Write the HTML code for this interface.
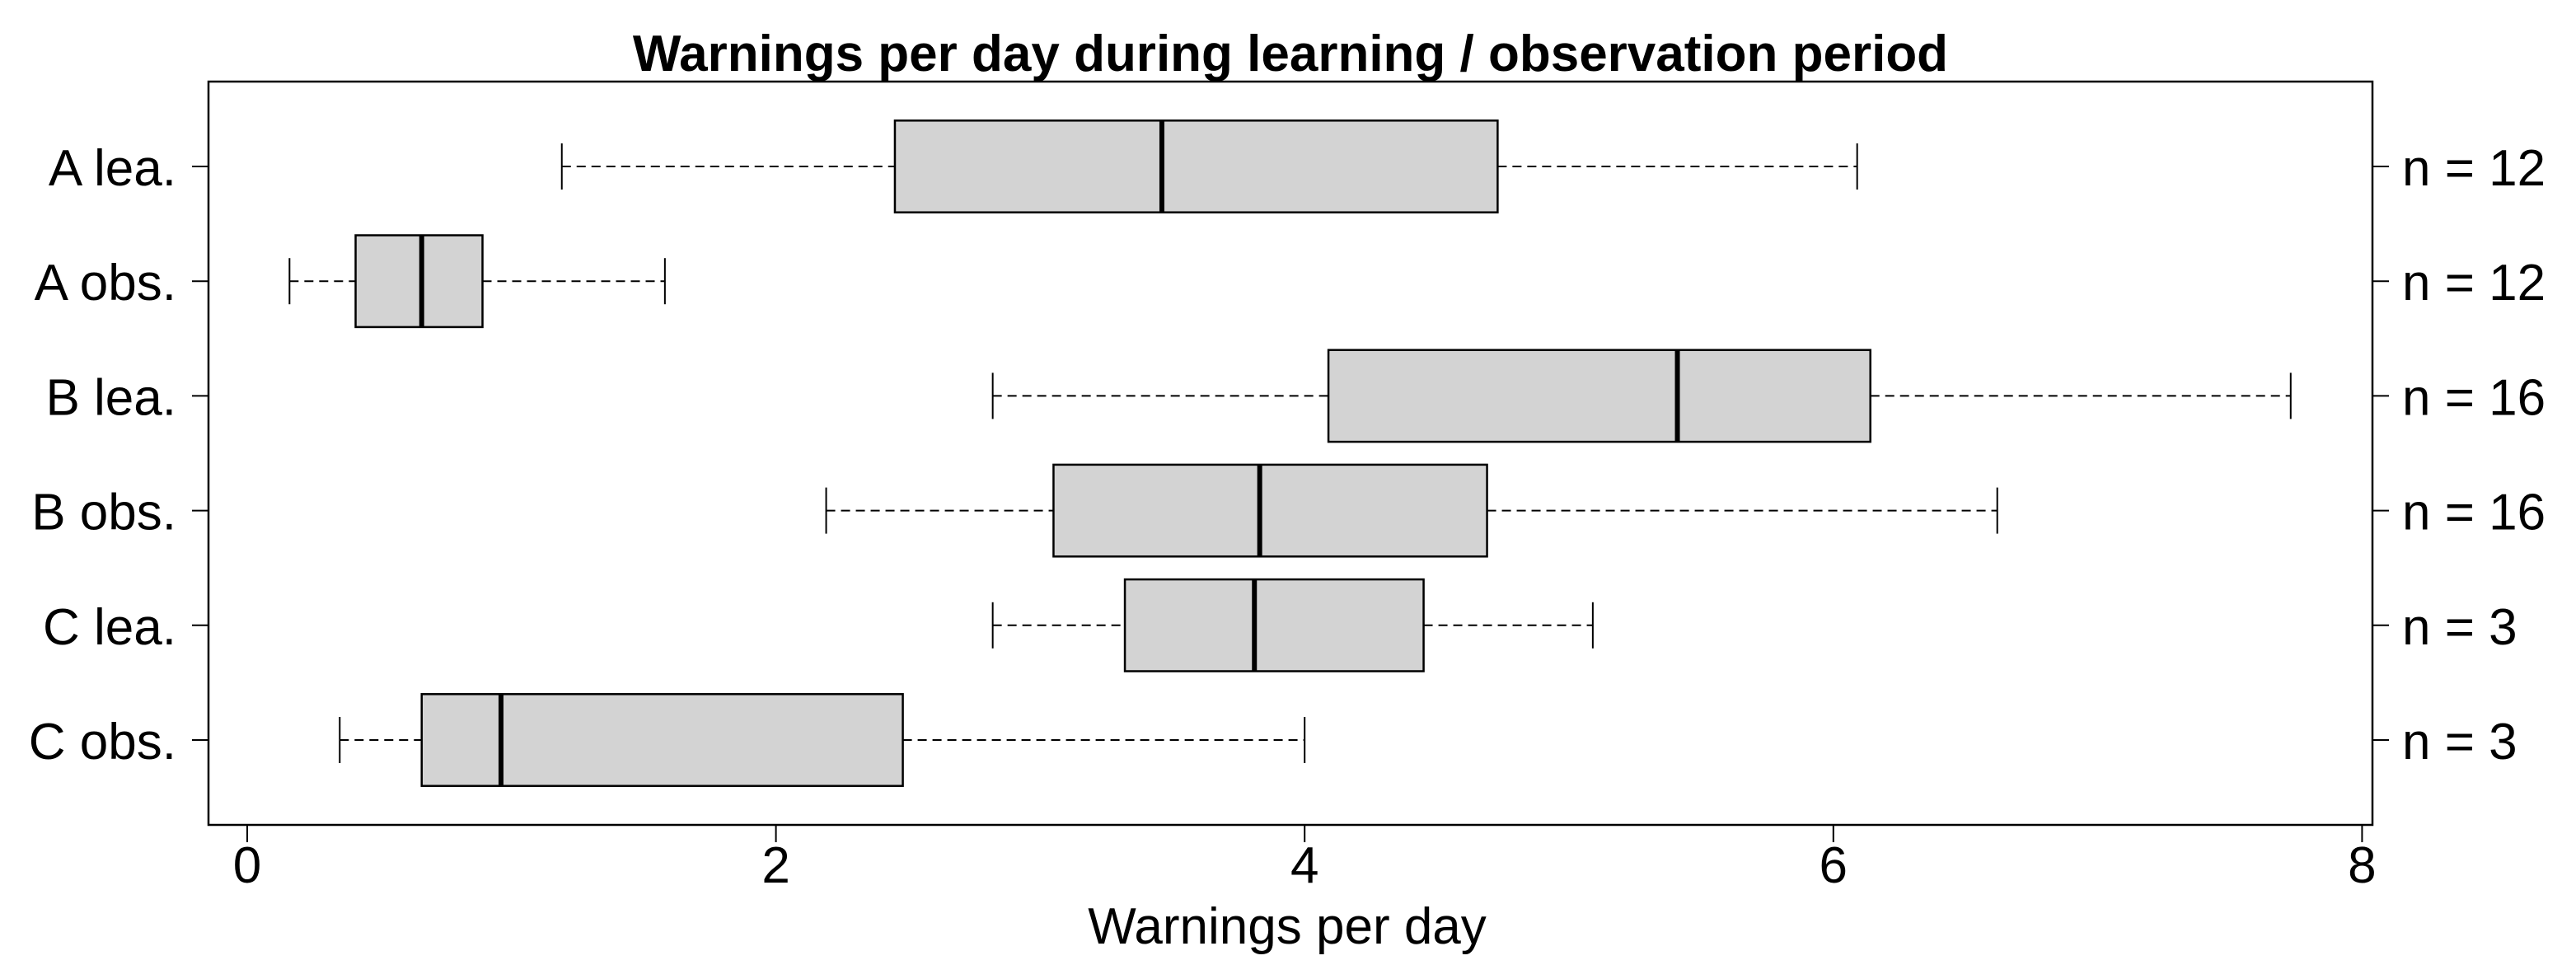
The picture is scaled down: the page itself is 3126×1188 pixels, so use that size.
<!DOCTYPE html>
<html><head><meta charset="utf-8"><style>
html,body{margin:0;padding:0;background:#fff;}
svg{display:block;font-family:"Liberation Sans",Arial,sans-serif;}
</style></head><body>
<svg id="chart" width="3126" height="1188" viewBox="0 0 3126 1188" xmlns="http://www.w3.org/2000/svg">
<rect x="0" y="0" width="3126" height="1188" fill="#fff"/>
<text x="1566" y="86" font-size="62" font-weight="bold" text-anchor="middle">Warnings per day during learning / observation period</text>
<text x="1562" y="1145" font-size="62" text-anchor="middle">Warnings per day</text>
<g id="marks"></g>
<rect x="253" y="99" width="2626" height="902" fill="none" stroke="#000" stroke-width="2.5"/>
</svg>
<script>
const categories = ["A lea.", "A obs.", "B lea.", "B obs.", "C lea.", "C obs."];
const counts = ["n = 12", "n = 12", "n = 16", "n = 16", "n = 3", "n = 3"];
const whiskerLow = [1.19, 0.16, 2.82, 2.19, 2.82, 0.35];
const q1 = [2.45, 0.41, 4.09, 3.05, 3.32, 0.66];
const medians = [3.46, 0.66, 5.41, 3.83, 3.81, 0.96];
const q3 = [4.73, 0.89, 6.14, 4.69, 4.45, 2.48];
const whiskerHigh = [6.09, 1.58, 7.73, 6.62, 5.09, 4.00];
const xTicks = [0, 2, 4, 6, 8];

const NS = "http://www.w3.org/2000/svg";
const X0 = 300, XS = 320.8;
function xScale(v){ return X0 + v * XS; }
function yScale(i){ return 202 + i * 139.2; }
const g = document.getElementById('marks');
function mk(tag, attrs, parent){
  const e = document.createElementNS(NS, tag);
  for (const k in attrs) e.setAttribute(k, attrs[k]);
  (parent || g).appendChild(e);
  return e;
}
const HB = 55.7, HS = 28;
categories.forEach((c, i) => {
  const y = yScale(i);
  const grp = mk('g', {});
  
  
  const dash = {stroke:'#000','stroke-width':2,'stroke-dasharray':'11 7'};
  const wl = mk('line', Object.assign({x1:xScale(whiskerLow[i]),x2:xScale(q1[i]),y1:y,y2:y}, dash), grp);
  
  
  const wh = mk('line', Object.assign({x1:xScale(q3[i]),x2:xScale(whiskerHigh[i]),y1:y,y2:y}, dash), grp);
  
  
  const sl = mk('line', {x1:xScale(whiskerLow[i]),x2:xScale(whiskerLow[i]),y1:y-HS,y2:y+HS,stroke:'#000','stroke-width':2}, grp);
  
  
  const sh = mk('line', {x1:xScale(whiskerHigh[i]),x2:xScale(whiskerHigh[i]),y1:y-HS,y2:y+HS,stroke:'#000','stroke-width':2}, grp);
  
  
  const r = mk('rect', {x:xScale(q1[i]),y:y-HB,width:xScale(q3[i])-xScale(q1[i]),height:2*HB,fill:'#d3d3d3',stroke:'#000','stroke-width':2.5}, grp);
  
  
  const m = mk('line', {x1:xScale(medians[i]),x2:xScale(medians[i]),y1:y-HB,y2:y+HB,stroke:'#000','stroke-width':6}, grp);
  
  
  const lt = mk('line', {x1:233,x2:253,y1:y,y2:y,stroke:'#000','stroke-width':2});
  
  
  const lab = mk('text', {x:214,y:y+23,'font-size':62,'text-anchor':'end'});
  lab.textContent = c;
  
  
  const rt = mk('line', {x1:2879,x2:2899,y1:y,y2:y,stroke:'#000','stroke-width':2});
  
  
  const nl = mk('text', {x:2915,y:y+23,'font-size':62,'text-anchor':'start'});
  nl.textContent = counts[i];
  
  
});
xTicks.forEach(t => {
  const x = xScale(t);
  const tk = mk('line', {x1:x,x2:x,y1:1001,y2:1022,stroke:'#000','stroke-width':2});
  
  
  const tl = mk('text', {x:x,y:1071,'font-size':62,'text-anchor':'middle'});
  tl.textContent = String(t);
  
  
});
</script>
</body></html>
